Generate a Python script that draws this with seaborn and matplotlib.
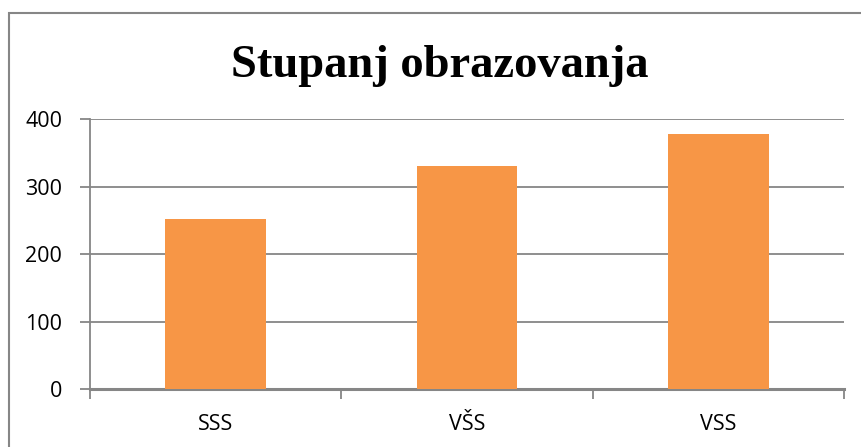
import matplotlib
matplotlib.use("Agg")
import matplotlib.pyplot as plt
import seaborn as sns
import pandas as pd
from matplotlib.patches import Rectangle

categories = ["SSS", "VŠS", "VSS"]
values = [252, 331, 378]
y_ticks = [0, 100, 200, 300, 400]
title = "Stupanj obrazovanja"

df = pd.DataFrame({"kategorija": categories, "broj": values})

sns.set_theme(style="white")
plt.rcParams["font.family"] = ["Open Sans", "DejaVu Sans"]

fig = plt.figure(figsize=(8.61, 4.47), dpi=100)
W, H = 861, 447
ax = fig.add_axes([90 / W, 1 - 389.3 / H, (844 - 90) / W, (389.3 - 119) / H])

sns.barplot(data=df, x="kategorija", y="broj", color="#F79646",
            width=0.4, saturation=1, linewidth=0, ax=ax, zorder=3)

grid_c = "#868686"
ax.set_ylim(0, 400)
ax.set_xlim(-0.5, 2.5)
ax.set_yticks(y_ticks)
ax.set_yticklabels([str(t) for t in y_ticks], fontsize=15.5, color="black")
ax.yaxis.grid(True, color=grid_c, linewidth=1.3, zorder=0)
ax.set_axisbelow(True)
ax.set_xlabel("")
ax.set_ylabel("")

# category ticks sit on the boundaries between bars
ax.set_xticks([-0.5, 0.5, 1.5, 2.5], minor=False)
ax.set_xticklabels([])
ax.set_xticks([0, 1, 2], minor=True)
ax.set_xticklabels(categories, minor=True, fontsize=15.5, color="black")
ax.tick_params(axis="x", which="major", length=7, width=1.3, color=grid_c,
               direction="out", bottom=True)
ax.tick_params(axis="x", which="minor", length=0, pad=18)
ax.tick_params(axis="y", length=7, width=1.3, color=grid_c, direction="out",
               left=True, pad=13)

for side in ["top", "right"]:
    ax.spines[side].set_visible(False)
ax.spines["left"].set_color(grid_c)
ax.spines["left"].set_linewidth(1.3)
ax.spines["bottom"].set_color(grid_c)
ax.spines["bottom"].set_linewidth(2.2)

fig.text(440 / W, 1 - 66 / H, title, ha="center", va="center", color="black",
         fontsize=33.5, fontweight="bold", family=["Liberation Serif", "DejaVu Serif"])

# chart frame
fig.patches.append(Rectangle((9 / W, -0.1), 1.2, 1 - 13 / H + 0.1,
                             transform=fig.transFigure, fill=False,
                             edgecolor=grid_c, linewidth=1.5))

fig.savefig("out.png", dpi=100)
